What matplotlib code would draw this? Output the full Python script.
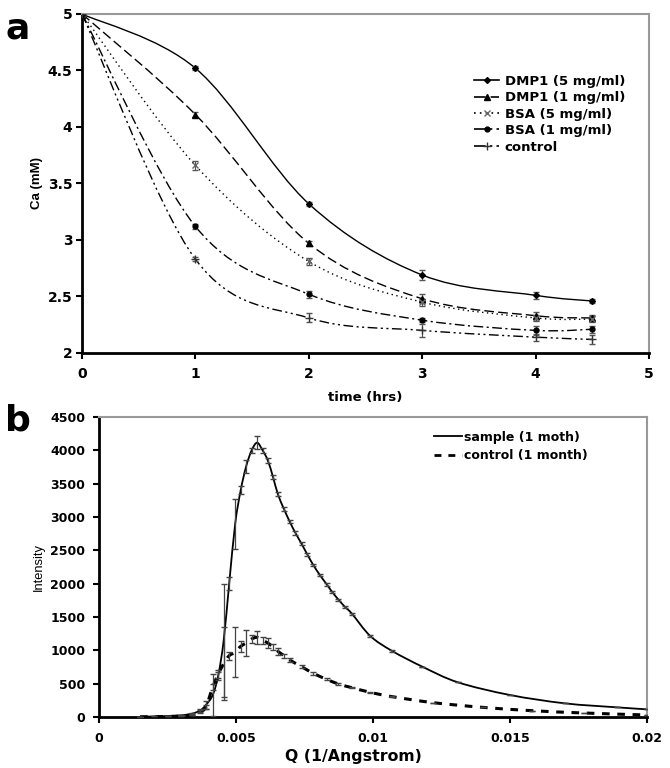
import matplotlib
matplotlib.use("Agg")
import matplotlib.pyplot as plt
from matplotlib.path import Path
from matplotlib.patches import PathPatch
from matplotlib.lines import Line2D

plt.rcParams['font.family'] = ['DejaVu Sans']

# panel a: calcium depletion
time_hrs = [0, 1, 2, 3, 4, 4.5]
ca_dmp1_5 = [5.0, 4.52, 3.32, 2.69, 2.51, 2.46]
ca_dmp1_1 = [5.0, 4.11, 2.97, 2.48, 2.33, 2.31]
ca_bsa_5 = [5.0, 3.66, 2.81, 2.45, 2.31, 2.30]
ca_bsa_1 = [5.0, 3.12, 2.52, 2.29, 2.20, 2.21]
ca_control = [5.0, 2.83, 2.31, 2.20, 2.14, 2.12]
err_dmp1_5 = [0.01, 0.02, 0.02, 0.04, 0.03, 0.02]
err_dmp1_1 = [0.01, 0.02, 0.02, 0.04, 0.03, 0.03]
err_bsa_5 = [0.01, 0.04, 0.03, 0.03, 0.03, 0.03]
err_bsa_1 = [0.01, 0.02, 0.03, 0.02, 0.04, 0.03]
err_control = [0.01, 0.02, 0.04, 0.06, 0.03, 0.04]
labels_a = ["DMP1 (5 mg/ml)", "DMP1 (1 mg/ml)", "BSA (5 mg/ml)", "BSA (1 mg/ml)", "control"]

# panel b: scattering
q_sample = [0.0015, 0.0020, 0.0025, 0.0030, 0.0034, 0.0037, 0.0039, 0.00415, 0.00435,
            0.00455, 0.00475, 0.00497, 0.00517, 0.00537, 0.00557, 0.00577, 0.00597,
            0.00616, 0.00635, 0.00653, 0.00675, 0.00696, 0.00717, 0.00739, 0.00760,
            0.00782, 0.00806, 0.00831, 0.00852, 0.00874, 0.00898, 0.00923, 0.0099,
            0.0107, 0.0118, 0.0131, 0.0150, 0.0170, 0.0189, 0.0200]
i_sample = [5, 8, 15, 25, 50, 100, 180, 330, 620,
            1150, 2000, 2900, 3400, 3760, 4000, 4115, 4000,
            3850, 3600, 3340, 3120, 2930, 2760, 2600, 2440,
            2280, 2130, 1990, 1870, 1760, 1650, 1550, 1215,
            990, 755, 520, 330, 205, 145, 115]
e_sample = [0, 0, 0, 0, 10, 20, 60, 320, 60,
            850, 100, 375, 60, 100, 40, 100, 40,
            40, 30, 30, 25, 25, 25, 25, 20,
            20, 20, 20, 15, 15, 15, 15, 10,
            10, 0, 0, 0, 0, 0, 0]

q_control = [0.0015, 0.0025, 0.0030, 0.0034, 0.0037, 0.0039, 0.00415, 0.00435, 0.00455,
             0.00475, 0.00497, 0.00517, 0.00537, 0.00557, 0.00577, 0.00597, 0.00616,
             0.00635, 0.00653, 0.00675, 0.00696, 0.00739, 0.00782, 0.00831, 0.00874,
             0.00923, 0.0099, 0.0107, 0.0122, 0.0140, 0.0158, 0.0177, 0.0200]
i_control = [3, 8, 15, 35, 80, 150, 450, 640, 800,
             920, 970, 1060, 1110, 1170, 1195, 1150, 1110,
             1050, 985, 920, 855, 755, 655, 565, 495,
             440, 370, 305, 215, 145, 95, 60, 30]
e_control = [0, 0, 0, 0, 20, 30, 40, 60, 550,
             60, 375, 80, 200, 60, 100, 50, 70,
             40, 50, 30, 30, 25, 20, 15, 15,
             10, 10, 10, 0, 0, 0, 0, 0]


def smooth(ax, x, y, **kw):
    # excel-like smoothed line through the points
    n = len(x)
    verts = [(x[0], y[0])]
    codes = [Path.MOVETO]
    for i in range(n - 1):
        a = i - 1 if i > 0 else i
        b = i + 2 if i + 2 < n else i + 1
        c1 = (x[i] + (x[i + 1] - x[a]) / 6, y[i] + (y[i + 1] - y[a]) / 6)
        c2 = (x[i + 1] - (x[b] - x[i]) / 6, y[i + 1] - (y[b] - y[i]) / 6)
        verts += [c1, c2, (x[i + 1], y[i + 1])]
        codes += [Path.CURVE4] * 3
    ax.add_patch(PathPatch(Path(verts, codes), fill=False, **kw))


def style_axes(ax, size, xpad, ypad):
    for s in ['left', 'bottom']:
        ax.spines[s].set_linewidth(2)
        ax.spines[s].set_color('black')
    for s in ['top', 'right']:
        ax.spines[s].set_linewidth(1.5)
        ax.spines[s].set_color('#999999')
    ax.tick_params(direction='out', length=4, width=1.5, labelsize=size)
    ax.tick_params(axis='x', pad=xpad)
    ax.tick_params(axis='y', pad=ypad)
    for lab in ax.get_xticklabels() + ax.get_yticklabels():
        lab.set_fontweight('bold')


fig = plt.figure(figsize=(6.7, 7.68), dpi=100)

# ---- panel a
ax1 = fig.add_axes([0.1224, 0.5404, 0.8463, 0.4414])
series = [ca_dmp1_5, ca_dmp1_1, ca_bsa_5, ca_bsa_1, ca_control]
errs = [err_dmp1_5, err_dmp1_1, err_bsa_5, err_bsa_1, err_control]
styles = ['-', (0, (7, 3)), (0, (1, 2.5)), (0, (7, 2.5, 1.5, 2.5)), (0, (7, 2.5, 1.5, 2.5, 1.5, 2.5))]
markers = ['D', '^', 'x', 'o', '+']
msizes = [3, 4, 4, 3.5, 6]
mcolors = ['black', 'black', '#666666', 'black', '#333333']
handles = []
for y, e, ls, m, ms, mc in zip(series, errs, styles, markers, msizes, mcolors):
    smooth(ax1, time_hrs, y, linestyle=ls, linewidth=1.0, edgecolor='black', zorder=2)
    ax1.errorbar(time_hrs, y, yerr=e, fmt=m, ms=ms, color=mc, ecolor='#555555',
                 elinewidth=0.8, capsize=2, zorder=3)
    handles.append(Line2D([], [], linestyle=ls, color='black', linewidth=1.2,
                          marker=m, ms=ms, markerfacecolor=mc, markeredgecolor=mc))
ax1.set_xlim(0, 5)
ax1.set_ylim(2, 5)
ax1.set_xticks([0, 1, 2, 3, 4, 5])
ax1.set_yticks([2, 2.5, 3, 3.5, 4, 4.5, 5])
ax1.set_yticklabels(['2', '2.5', '3', '3.5', '4', '4.5', '5'])
style_axes(ax1, 10, 6, 3)
ax1.set_xlabel('time (hrs)', fontsize=9.5, fontweight='bold', labelpad=7)
ax1.set_ylabel('Ca (mM)', fontsize=9.5, fontweight='bold', family='Liberation Sans',
               labelpad=3)
ax1.legend(handles, labels_a, loc='upper left', bbox_to_anchor=(0.68, 0.84),
           frameon=False, borderpad=0, handlelength=1.9, handletextpad=0.4,
           labelspacing=0.26, prop={'weight': 'bold', 'size': 9.5})
fig.text(0.008, 0.985, 'a', fontsize=26, fontweight='bold', va='top')

# ---- panel b
ax2 = fig.add_axes([0.1478, 0.0664, 0.8179, 0.3906])
smooth(ax2, q_sample, i_sample, linestyle='-', linewidth=1.3, edgecolor='black', zorder=2)
ax2.errorbar(q_sample, i_sample, yerr=e_sample, fmt='none', ecolor='#444444',
             elinewidth=0.9, capsize=2.5, zorder=3)
smooth(ax2, q_control, i_control, linestyle=(0, (2.5, 2.5)), linewidth=2.2,
       edgecolor='black', zorder=2)
ax2.errorbar(q_control, i_control, yerr=e_control, fmt='none', ecolor='#444444',
             elinewidth=0.9, capsize=2.5, zorder=3)
ax2.set_xlim(0, 0.02)
ax2.set_ylim(0, 4500)
ax2.set_xticks([0, 0.005, 0.01, 0.015, 0.02])
ax2.set_xticklabels(['0', '0.005', '0.01', '0.015', '0.02'])
ax2.set_yticks(range(0, 4501, 500))
style_axes(ax2, 9, 7, 6)
ax2.set_xlabel('Q (1/Angstrom)', fontsize=11.3, fontweight='bold', labelpad=2)
ax2.xaxis.set_label_coords(0.465, -0.105)
ax2.set_ylabel('Intensity', fontsize=9.3, family='Liberation Sans', labelpad=4)
h_b = [Line2D([], [], color='black', linewidth=1.3),
       Line2D([], [], color='black', linewidth=2, linestyle=(0, (2.5, 2.5)))]
ax2.legend(h_b, ['sample (1 moth)', 'control (1 month)'], loc='upper left',
           bbox_to_anchor=(0.60, 0.975), frameon=False, borderpad=0, handlelength=2.2,
           handletextpad=0.2, labelspacing=0.45, prop={'weight': 'bold', 'size': 9})
fig.text(0.008, 0.474, 'b', fontsize=26, fontweight='bold', va='top')

fig.savefig('out.png', dpi=100)
